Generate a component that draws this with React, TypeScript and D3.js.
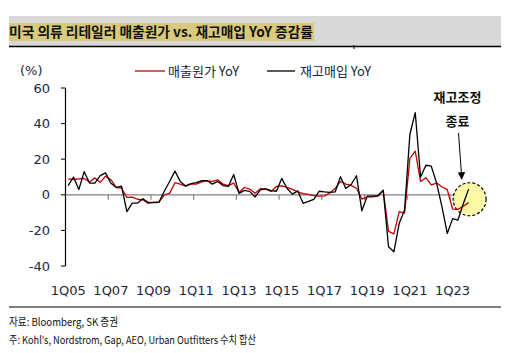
import React from "react";
import * as d3 from "d3";

const startYear = 2005;
const endYear = 2023;
const xTickLabels = ["1Q05", "1Q07", "1Q09", "1Q11", "1Q13", "1Q15", "1Q17", "1Q19", "1Q21", "1Q23"];
const yTicks = [-40, -20, 0, 20, 40, 60];

const cogsYoY = [
  9, 8.6, 9, 9.2, 7.2, 9.5, 7, 10.5, 8.5, 4, 3.7, -1.5, -1.3, -2.5, -2.8, -4.8,
  -4.1, -4.1, 0, 0.8, 6.8, 6, 4.8, 6, 6, 7.3, 7.8, 7.5, 8.4, 6, 5.2, 6.6,
  1.3, 4.1, 3.2, 0.9, 3.4, 3.2, 1.9, 4.7, 5, 4.2, 3, 1.6, 0.6, 0.2, -0.5, -0.8,
  -0.6, 1, 3.5, 7.5, 6, 5.3, 3.7, -2.4, -1.2, -1.2, -0.8, 2.4, -20.6, -21.9, -9.4, -10.3,
  20.5, 24.5, 7.5, 9.6, 5.6, 6.6, 4.5, 2.9, -8, -8.2, -6.4, -4.4,
];
const purchasesYoY = [
  5.2, 10, 3, 13, 6.6, 6.6, 10.8, 12.3, 6.5, 4.2, 4.8, -9.4, -4.7, -4.6, -2.2, -4.3,
  -4.4, -4.2, 2, 7.5, 13.3, 7.5, 5, 6.3, 6.8, 8, 8, 6, 7.5, 5.2, 4.7, 11.4,
  0.8, 2.5, 1.9, -1.2, 2.8, 3.3, 2.3, 2, 9.2, 3.5, 0.4, 2.2, -4.8, -3.7, -2.6, 2,
  1.6, 1.4, 1.6, 10.2, 3.5, 5.8, 10.7, -9, -0.8, -0.8, -0.5, 2.6, -29.2, -32, -16, -8.5,
  34, 46.2, 10, 16.6, 16.1, 6.6, -6.6, -21.7, -13.4, -14.2, -5, 3.2,
];

const quarters: string[] = [];
for (let yr = startYear; yr <= endYear; yr++) {
  for (let q = 1; q <= 4; q++) quarters.push(`${q}Q${String(yr % 100).padStart(2, "0")}`);
}

const W = 522;
const H = 353;
const numFont = "'DejaVu Sans', sans-serif";
const krFont = "'Noto Sans CJK KR', 'Noto Sans', sans-serif";
const navy = "#1c2640";

export default function App() {
  const n = quarters.length;
  const x = d3.scaleLinear().domain([0, n]).range([65.5, 471.3]);
  const y = d3.scaleLinear().domain([-40, 60]).range([266, 88]);
  const line = d3
    .line<number>()
    .x((_, i) => x(i + 0.5))
    .y((d) => y(d));

  const tickIdx = xTickLabels.map((l) => quarters.indexOf(l));

  return (
    <svg width={W} height={H} style={{ position: "absolute", left: 0, top: 0 }}>
      <rect x={0} y={0} width={W} height={H} fill="#fff" />
      {/* title band */}
      <rect x={9} y={16} width={492} height={30} fill="#d9d9d9" />
      <rect x={9} y={23} width={305} height={18} fill="#d8c97d" />
      <text x={9} y={37} fontFamily={krFont} fontWeight="bold" fontSize={14} fill="#111" textLength={304} lengthAdjust="spacingAndGlyphs">
        미국 의류 리테일러 매출원가 vs. 재고매입 YoY 증감률
      </text>
      <line x1={9} x2={501} y1={46.5} y2={46.5} stroke="#000" strokeWidth={1.5} />
      <line x1={354} x2={354} y1={45} y2={49} stroke="#000" strokeWidth={1} />

      {/* unit and legend */}
      <text x={20} y={75} fontFamily={numFont} fontSize={13} fill={navy}>(%)</text>
      <line x1={135} x2={165} y1={71} y2={71} stroke="#c00000" strokeWidth={1.3} />
      <text x={168} y={76} fontFamily={krFont} fontSize={13} fill={navy}>매출원가 YoY</text>
      <line x1={267} x2={295} y1={71} y2={71} stroke="#000" strokeWidth={1.3} />
      <text x={300} y={76} fontFamily={krFont} fontSize={13} fill={navy}>재고매입 YoY</text>

      {/* y axis */}
      <line x1={65.5} x2={65.5} y1={y(60)} y2={y(-40)} stroke="#000" strokeWidth={1.2} />
      {yTicks.map((t) => (
        <g key={t}>
          <line x1={61} x2={65.5} y1={y(t)} y2={y(t)} stroke="#000" strokeWidth={1} />
          <text x={50} y={y(t) + 4.6} textAnchor="end" fontFamily={numFont} fontSize={13} fill={navy}>
            {t}
          </text>
        </g>
      ))}

      {/* zero line and x ticks */}
      <line x1={65.5} x2={x(n)} y1={y(0)} y2={y(0)} stroke="#808080" strokeWidth={1.2} />
      {tickIdx.slice(1).map((i) => (
        <line key={i} x1={x(i)} x2={x(i)} y1={y(0)} y2={y(0) + 5} stroke="#808080" strokeWidth={1.2} />
      ))}
      {xTickLabels.map((l, k) => (
        <text key={l} x={x(tickIdx[k] + 0.5)} y={295} textAnchor="middle" fontFamily={numFont} fontSize={13} fill={navy}>
          {l}
        </text>
      ))}

      {/* highlight circle */}
      <circle cx={x(n - 0.5) + 1} cy={y(-2.5)} r={16.5} fill="#fbf8a6" stroke="#000" strokeWidth={1.2} strokeDasharray="3,2" />

      {/* series */}
      <path d={line(cogsYoY) || ""} fill="none" stroke="#c00000" strokeWidth={1.3} strokeLinejoin="round" />
      <path d={line(purchasesYoY) || ""} fill="none" stroke="#000" strokeWidth={1.3} strokeLinejoin="round" />

      {/* annotation */}
      <text x={457.5} y={102} textAnchor="middle" fontFamily={krFont} fontWeight="bold" fontSize={13} fill="#111">재고조정</text>
      <text x={457.5} y={126} textAnchor="middle" fontFamily={krFont} fontWeight="bold" fontSize={13} fill="#111">종료</text>
      <line x1={458.5} y1={133} x2={461.4} y2={173} stroke="#000" strokeWidth={1} />
      <path d="M457.8,172.5 L465.2,172 L461.8,180 Z" fill="#000" />

      {/* footer */}
      <line x1={9} x2={501} y1={307} y2={307} stroke="#000" strokeWidth={1.2} />
      <text x={9} y={326} fontFamily={krFont} fontSize={11} fill="#111" textLength={109} lengthAdjust="spacingAndGlyphs">
        자료: Bloomberg, SK 증권
      </text>
      <text x={9} y={344} fontFamily={krFont} fontSize={11} fill="#111" textLength={247} lengthAdjust="spacingAndGlyphs">
        주: Kohl's, Nordstrom, Gap, AEO, Urban Outfitters 수치 합산
      </text>
    </svg>
  );
}
